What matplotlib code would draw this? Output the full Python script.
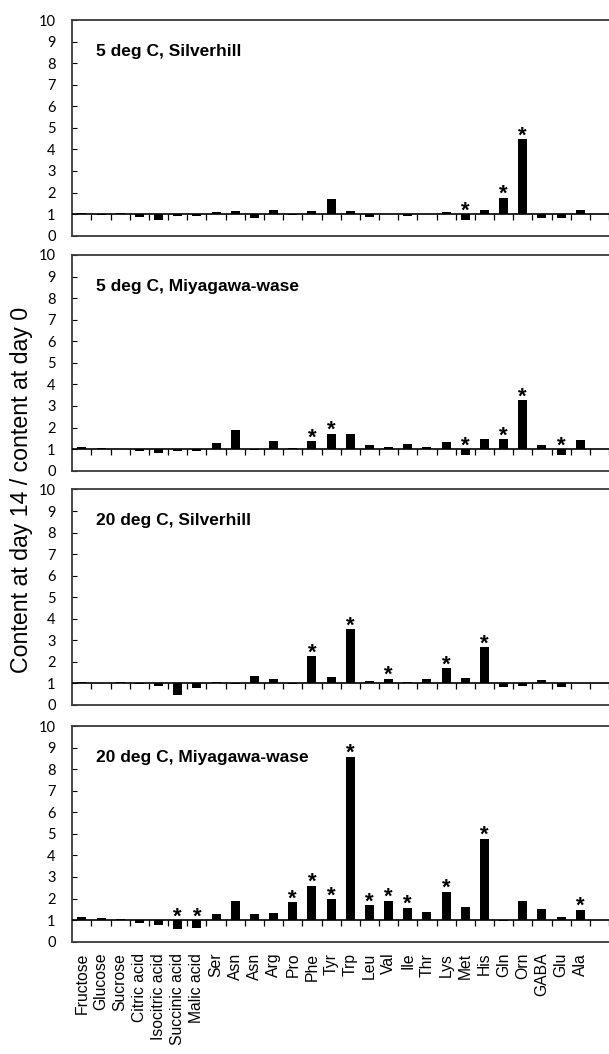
import numpy as np
import matplotlib.pyplot as plt

categories = ["Fructose", "Glucose", "Sucrose", "Citric acid", "Isocitric acid",
              "Succinic acid", "Malic acid", "Ser", "Asn", "Asn", "Arg", "Pro",
              "Phe", "Tyr", "Trp", "Leu", "Val", "Ile", "Thr", "Lys", "Met",
              "His", "Gln", "Orn", "GABA", "Glu", "Ala"]

# ratio day 14 / day 0 for each panel
silverhill_5 = [1.03, 0.97, 1.03, 0.88, 0.75, 0.90, 0.93, 1.08, 1.15, 0.80,
                1.20, 0.97, 1.15, 1.68, 1.14, 0.86, 1.00, 0.93, 1.00, 1.12,
                0.75, 1.18, 1.76, 4.48, 0.80, 0.80, 1.17]
miyagawa_5 = [1.08, 1.06, 1.01, 0.90, 0.84, 0.92, 0.92, 1.30, 1.87, 0.98,
              1.40, 1.04, 1.37, 1.71, 1.71, 1.17, 1.11, 1.23, 1.08, 1.31,
              0.72, 1.46, 1.46, 3.27, 1.20, 0.74, 1.43]
silverhill_20 = [1.06, 1.03, 1.07, 0.98, 0.88, 0.48, 0.78, 1.07, 0.98, 1.34,
                 1.20, 0.99, 2.27, 1.29, 3.52, 1.12, 1.22, 1.06, 1.20, 1.71,
                 1.26, 2.68, 0.82, 0.88, 1.17, 0.85, 1.02]
miyagawa_20 = [1.13, 1.12, 1.03, 0.85, 0.78, 0.58, 0.62, 1.30, 1.88, 1.28,
               1.32, 1.83, 2.60, 1.97, 8.57, 1.68, 1.91, 1.57, 1.40, 2.31,
               1.63, 4.77, 0.95, 1.88, 1.50, 1.15, 1.48]

# categories marked with an asterisk
stars_silverhill_5 = [20, 22, 23]
stars_miyagawa_5 = [12, 13, 20, 22, 23, 25]
stars_silverhill_20 = [12, 14, 16, 19, 21]
stars_miyagawa_20 = [5, 6, 11, 12, 13, 14, 15, 16, 17, 19, 21, 26]

titles = ["5 deg C, Silverhill", "5 deg C, Miyagawa-wase",
          "20 deg C, Silverhill", "20 deg C, Miyagawa-wase"]

W, H = 609, 1054
fig = plt.figure(figsize=(W / 100, H / 100), dpi=100)

# panel frames in pixels (top, bottom)
frames = [(20, 235.7), (255, 470.7), (489.5, 705), (726, 941.7)]
left_px = 72.3
step_px = 19.17
x_lo, x_hi = -0.5, 28.5


def draw_panel(ax, vals, stars, title, last):
    x = np.arange(len(categories))
    v = np.array(vals)
    ax.bar(x, v - 1, bottom=1, width=0.47, color="black", zorder=3)
    ax.axhline(1, color="black", lw=1.2, zorder=4)
    bounds = np.arange(0.5, x_hi + 1, 1)
    ax.plot(bounds, np.ones_like(bounds), ls="none", marker=3, ms=4.5,
            mew=0.9, color="black", zorder=4)
    for i in stars:
        top = max(v[i], 1)
        ax.text(i, top - 0.1, "*", ha="center", va="baseline", fontsize=16,
                fontweight="bold", family="Liberation Sans", zorder=5)
    ax.text(0.74, 8.33, title, ha="left", va="baseline", fontsize=12.5,
            fontweight="bold", family="Liberation Sans")
    ax.set_xlim(x_lo, x_hi)
    ax.set_ylim(0, 10)
    ax.set_yticks(range(0, 11))
    ax.tick_params(axis="y", direction="in", length=3.5, width=0.8, pad=12,
                   labelsize=10.5)
    for lab in ax.get_yticklabels():
        lab.set_family("Lato")
    ax.set_xticks(x)
    if last:
        ax.set_xticklabels(categories, rotation=90, fontsize=11.3,
                           family="Liberation Sans")
        ax.tick_params(axis="x", length=0, pad=8)
    else:
        ax.set_xticklabels([])
        ax.tick_params(axis="x", length=0)
    for s in ax.spines.values():
        s.set_color("#3a3a3a")
        s.set_linewidth(1.3)


data = [silverhill_5, miyagawa_5, silverhill_20, miyagawa_20]
stars = [stars_silverhill_5, stars_miyagawa_5, stars_silverhill_20, stars_miyagawa_20]

for k, (top_px, bot_px) in enumerate(frames):
    ax = fig.add_axes([left_px / W, 1 - bot_px / H,
                       (x_hi - x_lo) * step_px / W, (bot_px - top_px) / H])
    draw_panel(ax, data[k], stars[k], titles[k], k == 3)

ylab = fig.text(22 / W, 1 - 490 / H, "Content at day 14 / content at day 0",
                rotation=90, ha="center", va="center", fontsize=13,
                family=["Liberation Sans Narrow", "Liberation Sans"])
# fit the label to the length it has in the source figure (~365 px)
fig.canvas.draw()
bb = ylab.get_window_extent(fig.canvas.get_renderer())
ylab.set_fontsize(13 * 365 / bb.height)

fig.savefig("out.png", dpi=100)
